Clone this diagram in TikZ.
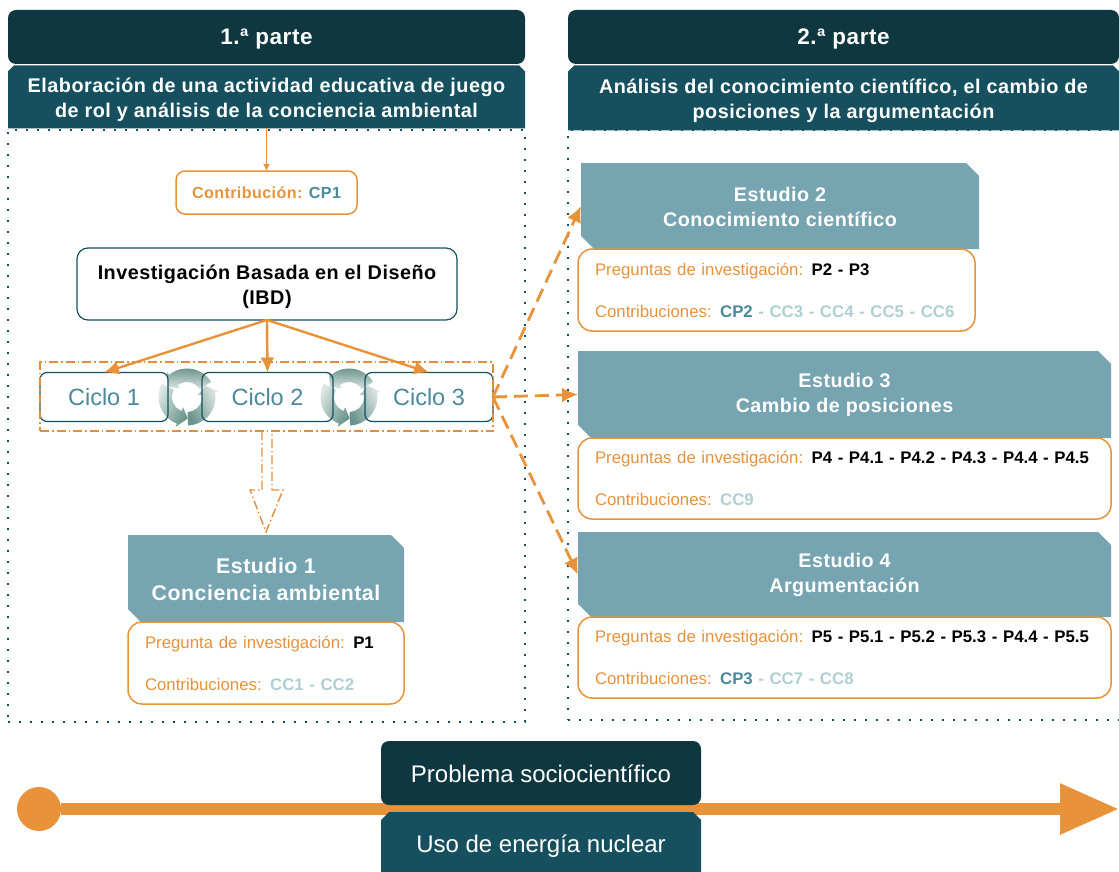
\documentclass[tikz,border=0pt]{standalone}
\usepackage{fontspec}
\setmainfont{Liberation Sans}
\newfontfamily\ancha[LetterSpace=2.5]{Liberation Sans}
\usetikzlibrary{arrows.meta,shapes.misc}
\definecolor{oscuro}{HTML}{0F3740}
\definecolor{azul}{HTML}{16505E}
\definecolor{estudio}{HTML}{76A4B0}
\definecolor{naranja}{HTML}{E8923A}
\definecolor{cp}{HTML}{4A8A9A}
\definecolor{cc}{HTML}{B0CFD3}
\definecolor{arodark}{HTML}{6A938C}
\definecolor{arolight}{HTML}{DCE7E4}
\newcommand{\bajar}[1]{\rule{0pt}{#1}}
\tikzset{
  base/.style={inner sep=0pt,outer sep=0pt,align=center},
  parte/.style={base,fill=oscuro,rounded corners=8pt,text=white,font=\ancha\fontsize{22.5}{26}\selectfont\bfseries},
  titulo/.style={base,fill=azul,chamfered rectangle,chamfered rectangle corners={north east,north west},chamfered rectangle xsep=3pt,chamfered rectangle ysep=3pt,text=white,font=\ancha\fontsize{19.8}{25}\selectfont\bfseries},
  marco/.style={base,draw=azul,line width=2pt,dash pattern=on 2pt off 9pt},
  ciclobox/.style={base,draw=azul,line width=1.2pt,rounded corners=7pt,text=cp,font=\fontsize{23.5}{28}\selectfont},
  estudiobox/.style={base,fill=estudio,chamfered rectangle,chamfered rectangle corners={north east,south west},chamfered rectangle xsep=6.5pt,chamfered rectangle ysep=6.5pt,text=white,font=\ancha\fontsize{19.7}{25}\selectfont\bfseries},
  datos/.style={base,draw=naranja,fill=white,line width=1.5pt,rounded corners=14pt,align=left,text=naranja,font=\fontsize{16.8}{42}\selectfont},
  flecha/.style={naranja,line width=2.4pt,-{Latex[length=15pt,width=14pt]}},
  rayas/.style={naranja,line width=2.8pt,dash pattern=on 14pt off 7pt,-{Latex[length=16pt,width=15pt]}},
  puntoraya/.style={draw=naranja!85!brown,line width=1.4pt,dash pattern=on 9pt off 3pt on 1.5pt off 3pt}
}
\begin{document}
\begin{tikzpicture}[yscale=-1,x=1pt,y=1pt]
  \clip (0,0) rectangle (1119,872);
  \fill[white] (0,0) rectangle (1119,872);
  % marcos
  \node[marco,minimum width=517pt,minimum height=592pt] (marco1) at (266.5,426) {};
  \node[marco,minimum width=560pt,minimum height=590pt] (marco2) at (848,425) {};
  % cabeceras
  \node[parte,minimum width=517pt,minimum height=54pt] (parte1) at (266.5,37) {\bajar{20pt}1.ª parte};
  \node[parte,minimum width=551pt,minimum height=54pt] (parte2) at (843.5,37) {\bajar{20pt}2.ª parte};
  \node[titulo,minimum width=517pt,minimum height=63pt] (titulo1) at (266.5,97) {\bajar{20pt}Elaboración de una actividad educativa de juego\\de rol y análisis de la conciencia ambiental};
  \node[titulo,minimum width=551pt,minimum height=65pt] (titulo2) at (843.5,98) {\bajar{20pt}Análisis del conocimiento científico, el cambio de\\posiciones y la argumentación};
  % primera parte
  \node[base,draw=naranja,line width=1.5pt,rounded corners=9pt,minimum width=181pt,minimum height=43pt,font=\ancha\fontsize{16.1}{18}\selectfont\bfseries,text=naranja] (contribucion) at (266.5,192.5) {Contribución: \textcolor{cp}{CP1}};
  \node[base,draw=azul,line width=1.2pt,rounded corners=11pt,minimum width=380pt,minimum height=72pt,font=\ancha\fontsize{19.8}{25}\selectfont\bfseries] (ibd) at (267,284) {\bajar{20pt}Investigación Basada en el Diseño\\(IBD)};
  \draw[naranja,line width=1.8pt,-{Latex[length=7pt,width=7pt]}] (titulo1.south) -- (contribucion.north);
  \foreach \cx in {187,349}
    \foreach \a in {88,208,328}
      \shade[left color=arodark,right color=arolight,shading angle=\a+30,shift={(\cx,397)}]
        (\a:28.5) arc[start angle=\a,end angle=\a-97,radius=28.5] -- (\a-97:32) -- (\a-120:21.5) -- (\a-97:11) -- (\a-97:15) arc[start angle=\a-97,end angle=\a,radius=15] -- cycle;
  \foreach \n/\cx/\w in {1/104/128,2/267.5/131,3/429/128}
    \node[ciclobox,minimum width=\w pt,minimum height=49pt] (ciclo\n) at (\cx,397) {Ciclo \n};
  \node[base,puntoraya,minimum width=453pt,minimum height=69pt] (ciclos) at (266.5,396.5) {};
  \foreach \n in {1,2,3}
    \draw[flecha] (ibd.south) -- (ciclo\n.north);
  \draw[puntoraya] (262,431) -- (262,490) -- (250,490) -- (266,532) -- (283,490) -- (272,490) -- (272,431);
  \node[estudiobox,minimum width=276pt,minimum height=87pt,font=\ancha\fontsize{21.3}{27}\selectfont\bfseries] (estudio1) at (266,578.5) {\bajar{17pt}Estudio 1\\Conciencia ambiental};
  \node[datos,minimum width=276pt,minimum height=82pt,text width=242pt] (datos1) at (266,663) {Pregunta de investigación: \textcolor{black}{\bfseries P1}\\Contribuciones: \textcolor{cc}{\bfseries CC1 - CC2}};
  % segunda parte
  \node[estudiobox,minimum width=398pt,minimum height=86pt] (estudio2) at (780,206) {\bajar{16pt}Estudio 2\\Conocimiento científico};
  \node[datos,minimum width=397pt,minimum height=82pt,text width=363pt] (datos2) at (776.5,290) {Preguntas de investigación: \textcolor{black}{\bfseries P2 - P3}\\Contribuciones: \textcolor{cp}{\bfseries CP2} \textcolor{cc}{\bfseries - CC3 - CC4 - CC5 - CC6}};
  \node[estudiobox,minimum width=533pt,minimum height=87pt] (estudio3) at (844.5,394.5) {\bajar{16pt}Estudio 3\\Cambio de posiciones};
  \node[datos,minimum width=533pt,minimum height=81pt,text width=499pt] (datos3) at (844.5,478.5) {Preguntas de investigación: \textcolor{black}{\bfseries P4 - P4.1 - P4.2 - P4.3 - P4.4 - P4.5}\\Contribuciones: \textcolor{cc}{\bfseries CC9}};
  \node[estudiobox,minimum width=533pt,minimum height=85pt] (estudio4) at (844.5,574.5) {\bajar{16pt}Estudio 4\\Argumentación};
  \node[datos,minimum width=533pt,minimum height=81pt,text width=499pt] (datos4) at (844.5,657.5) {Preguntas de investigación: \textcolor{black}{\bfseries P5 - P5.1 - P5.2 - P5.3 - P4.4 - P5.5}\\Contribuciones: \textcolor{cp}{\bfseries CP3} \textcolor{cc}{\bfseries - CC7 - CC8}};
  \foreach \n in {2,3,4}
    \draw[rayas] (ciclo3.east) -- (estudio\n.west);
  % linea inferior
  \node[base,circle,fill=naranja,minimum size=44pt] (inicio) at (39,809) {};
  \coordinate (fin) at (1119,809);
  \draw[naranja,line width=12pt,-{Triangle[length=59pt,width=48pt]}] (inicio) -- (fin);
  \node[parte,minimum width=320pt,minimum height=64pt,font=\normalfont\fontsize{24}{28}\selectfont] (problema) at (541,773) {\bajar{20pt}Problema sociocientífico};
  \node[titulo,minimum width=320pt,minimum height=68pt,chamfered rectangle xsep=4pt,chamfered rectangle ysep=4pt,font=\normalfont\fontsize{24}{28}\selectfont] (uso) at (541,846) {Uso de energía nuclear};
\end{tikzpicture}
\end{document}
